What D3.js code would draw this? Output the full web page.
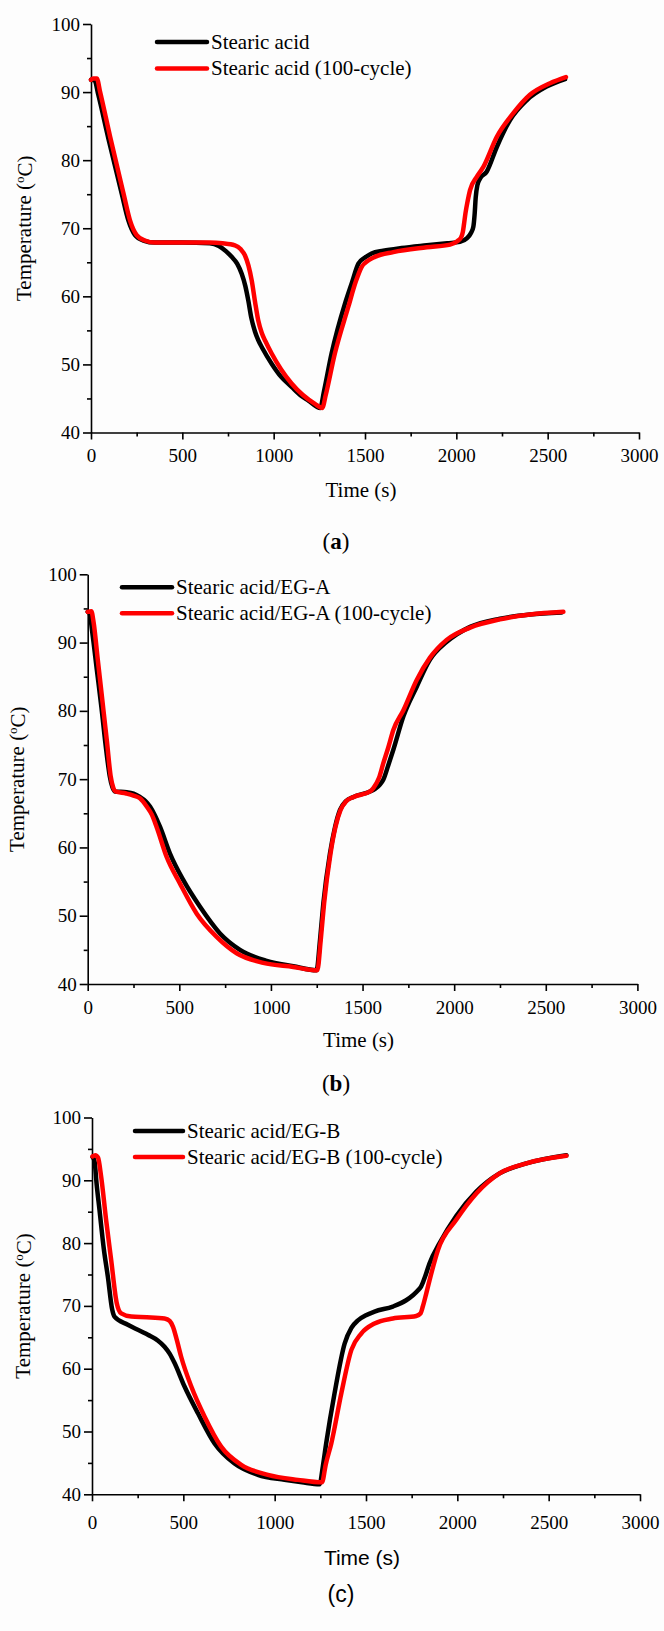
<!DOCTYPE html>
<html>
<head>
<meta charset="utf-8">
<script src="https://cdn.jsdelivr.net/npm/d3@7"></script>
<style>
  html, body { margin: 0; padding: 0; background: #fff; }
  svg { display: block; }
</style>
</head>
<body>
<svg id="fig" width="664" height="1631"></svg>
<script>
// Cooling / heating curves, each point is [time (s), temperature (°C)]
const pureSA = [[0,91.8],[20,91.7],[40,89.6],[95,83.2],[168,75.1],[204,71.2],[241,69.0],[287,68.2],[350,67.9],[500,67.9],[650,67.8],[700,67.4],[740,66.6],[770,65.8],[800,64.8],[825,63.3],[845,61.5],[861,59.4],[878,56.8],[898,54.8],[915,53.6],[940,52.3],[989,50.1],[1040,48.2],[1098,46.7],[1150,45.4],[1190,44.7],[1255,43.6],[1275,46.0],[1317,51.6],[1390,58.9],[1427,61.9],[1464,64.8],[1500,65.7],[1536,66.3],[1600,66.7],[1700,67.1],[1838,67.5],[1950,67.8],[2020,68.0],[2057,68.5],[2080,69.3],[2093,70.2],[2100,72.0],[2106,74.5],[2115,76.3],[2130,77.3],[2166,78.3],[2221,81.9],[2294,85.9],[2385,88.8],[2494,90.8],[2595,91.9]];
const pureSA100 = [[0,91.8],[12,92.0],[32,92.0],[50,90.0],[105,83.4],[178,75.1],[213,71.2],[250,69.0],[295,68.2],[350,67.9],[500,67.9],[650,67.9],[720,67.8],[788,67.5],[820,66.9],[843,66.0],[862,64.5],[880,62.3],[898,59.2],[916,56.4],[935,54.6],[955,53.4],[989,51.6],[1040,49.3],[1098,47.2],[1160,45.5],[1226,44.2],[1266,43.6],[1285,45.5],[1335,51.6],[1408,58.4],[1450,62.2],[1481,64.3],[1520,65.3],[1554,65.8],[1655,66.5],[1838,67.2],[1966,67.6],[2005,68.1],[2025,68.6],[2036,69.5],[2042,70.6],[2050,72.2],[2062,74.0],[2075,75.6],[2111,77.5],[2148,79.0],[2221,83.4],[2312,86.9],[2403,89.6],[2513,91.3],[2600,92.2]];

const egA = [[0,94.5],[10,94.3],[25,91.5],[50,86.0],[75,80.5],[100,74.5],[120,70.5],[135,68.8],[149,68.2],[213,68.1],[250,67.9],[285,67.4],[315,66.8],[340,66.0],[365,64.8],[395,63.0],[449,59.1],[522,55.2],[613,51.3],[722,47.4],[831,45.0],[977,43.4],[1122,42.6],[1249,42.0],[1268,46.5],[1286,51.8],[1322,59.1],[1350,63.0],[1377,65.5],[1410,66.8],[1450,67.4],[1541,68.2],[1570,68.6],[1595,69.2],[1613,69.9],[1640,72.0],[1668,74.3],[1723,79.2],[1795,83.5],[1868,87.5],[1959,90.1],[2087,92.3],[2250,93.5],[2414,94.1],[2586,94.4]];
const egA100 = [[0,94.5],[20,94.6],[32,93.0],[55,87.5],[80,81.5],[105,75.5],[125,70.5],[140,68.7],[152,68.2],[210,67.9],[250,67.6],[285,67.2],[322,66.0],[350,64.8],[376,63.0],[431,58.6],[504,54.7],[595,50.3],[704,46.9],[813,44.5],[958,43.1],[1122,42.5],[1253,42.0],[1272,46.5],[1290,51.8],[1325,59.1],[1352,63.0],[1380,65.5],[1412,66.8],[1452,67.4],[1541,68.2],[1559,68.7],[1590,70.2],[1613,72.3],[1640,74.6],[1668,77.2],[1723,80.1],[1795,84.5],[1868,87.8],[1959,90.4],[2087,92.2],[2250,93.4],[2414,94.1],[2596,94.5]];

const egB = [[3,93.7],[14,93.0],[25,89.5],[41,85.3],[65,79.0],[87,74.6],[110,69.5],[123,68.3],[196,67.0],[306,65.4],[360,64.5],[397,63.5],[425,62.4],[452,60.9],[506,57.2],[580,52.9],[671,48.1],[780,44.9],[908,43.1],[1054,42.3],[1150,41.9],[1246,41.6],[1264,44.5],[1282,48.1],[1328,56.1],[1383,64.0],[1420,66.5],[1456,67.7],[1500,68.5],[1547,69.1],[1647,69.9],[1720,70.9],[1757,71.7],[1785,72.5],[1802,73.1],[1825,74.8],[1848,76.8],[1903,80.0],[1994,84.3],[2104,88.2],[2231,91.1],[2378,92.7],[2597,94.0]];
const egB100 = [[3,93.8],[18,94.0],[33,93.6],[50,90.6],[78,83.5],[105,77.3],[135,70.5],[160,68.8],[215,68.3],[300,68.2],[397,68.0],[425,67.6],[443,66.7],[465,64.5],[488,61.9],[543,57.2],[616,52.4],[707,47.6],[817,44.7],[963,43.1],[1127,42.3],[1259,41.9],[1280,44.8],[1310,48.1],[1365,56.1],[1420,63.0],[1474,65.6],[1547,67.2],[1647,68.0],[1775,68.4],[1798,68.8],[1811,69.9],[1830,72.0],[1848,74.1],[1894,78.9],[1994,83.7],[2104,87.9],[2231,91.1],[2378,92.7],[2597,93.9]];

// Legend entries and axis labelling
const legendA = ["Stearic acid", "Stearic acid (100-cycle)"];
const legendB = ["Stearic acid/EG-A", "Stearic acid/EG-A (100-cycle)"];
const legendC = ["Stearic acid/EG-B", "Stearic acid/EG-B (100-cycle)"];
const panelTags = ["a", "b", "c"];
const xTicks = [0, 500, 1000, 1500, 2000, 2500, 3000];
const xMinorTicks = [250, 750, 1250, 1750, 2250, 2750];
const yTicks = [40, 50, 60, 70, 80, 90, 100];
const yMinorTicks = [45, 55, 65, 75, 85, 95];
const xTitle = "Time (s)";
const yTitleMain = "Temperature (";
const yTitleSup = "o";
const yTitleEnd = "C)";
const seriesColors = ["#000000", "#ff0000"];

const SERIF = "'Liberation Serif','Times New Roman',serif";
const SANS = "'Liberation Sans',Arial,sans-serif";

// Panel frames (pixel layout)
const panels = [
  { series: [pureSA, pureSA100], legend: legendA, tag: panelTags[0],
    x0: 91, x1: 639, yTop: 24, yBot: 432.5,
    legX: 157, legY: 42, legGap: 26.5, legLen: 50,
    yTitleX: 24, tickY: 455, titleY: 490, tagX: 336, tagY: 541,
    titleFont: SERIF, tagFont: SERIF, tagBold: true },
  { series: [egA, egA100], legend: legendB, tag: panelTags[1],
    x0: 87.7, x1: 637.4, yTop: 574.3, yBot: 984,
    legX: 122, legY: 587.3, legGap: 26, legLen: 50,
    yTitleX: 17, tickY: 1007, titleY: 1040, tagX: 336, tagY: 1083,
    titleFont: SERIF, tagFont: SERIF, tagBold: true },
  { series: [egB, egB100], legend: legendC, tag: panelTags[2],
    x0: 92, x1: 640, yTop: 1117.5, yBot: 1494.3,
    legX: 135, legY: 1131, legGap: 26, legLen: 48,
    yTitleX: 23, tickY: 1522, titleY: 1558, tagX: 341, tagY: 1594,
    titleFont: SANS, tagFont: SANS, tagBold: false }
];

const svg = d3.select("#fig");
svg.append("rect").attr("width", 664).attr("height", 1631).attr("fill", "#fdfdfd");

panels.forEach(p => {
  const x = d3.scaleLinear().domain([0, 3000]).range([p.x0, p.x1]);
  const y = d3.scaleLinear().domain([40, 100]).range([p.yBot, p.yTop]);
  const g = svg.append("g");

  // x axis: major ticks with labels, then unlabeled minor ticks
  const gx = g.append("g").attr("transform", `translate(0,${p.yBot})`)
    .call(d3.axisBottom(x).tickValues(xTicks).tickSize(7).tickSizeOuter(0).tickFormat(d3.format("d")));
  gx.append("g").call(d3.axisBottom(x).tickValues(xMinorTicks).tickSize(4).tickSizeOuter(0).tickFormat(""))
    .select(".domain").remove();
  gx.selectAll("text")
    .attr("y", p.tickY - p.yBot).attr("dy", "0.35em")
    .attr("font-family", SERIF).attr("font-size", 19).attr("fill", "#000");

  // y axis
  const gy = g.append("g").attr("transform", `translate(${p.x0},0)`)
    .call(d3.axisLeft(y).tickValues(yTicks).tickSize(8).tickPadding(3).tickSizeOuter(0));
  gy.append("g").call(d3.axisLeft(y).tickValues(yMinorTicks).tickSize(4).tickSizeOuter(0).tickFormat(""))
    .select(".domain").remove();
  gy.selectAll("text").attr("font-family", SERIF).attr("font-size", 19).attr("fill", "#000");

  g.selectAll(".domain, .tick line").attr("stroke", "#000").attr("stroke-width", 1.6);

  // curves: unaged first, cycled sample drawn on top
  const line = d3.line().x(d => x(d[0])).y(d => y(d[1])).curve(d3.curveMonotoneX);
  p.series.forEach((s, i) => {
    g.append("path").datum(s).attr("d", line)
      .attr("fill", "none").attr("stroke", seriesColors[i]).attr("stroke-width", 4.5)
      .attr("stroke-linejoin", "round").attr("stroke-linecap", "round");
  });

  // legend
  p.legend.forEach((label, i) => {
    const ly = p.legY + i * p.legGap;
    g.append("line").attr("x1", p.legX).attr("x2", p.legX + p.legLen)
      .attr("y1", ly).attr("y2", ly)
      .attr("stroke", seriesColors[i]).attr("stroke-width", 4.5).attr("stroke-linecap", "round");
    g.append("text").attr("x", p.legX + p.legLen + 4).attr("y", ly).attr("dy", "0.33em")
      .attr("font-family", SERIF).attr("font-size", 21).attr("fill", "#000").text(label);
  });

  // axis titles
  g.append("text").attr("x", (p.x0 + p.x1) / 2 - 4).attr("y", p.titleY).attr("dy", "0.35em")
    .attr("text-anchor", "middle").attr("font-family", p.titleFont).attr("font-size", 21)
    .attr("fill", "#000").text(xTitle);

  const yt = g.append("text")
    .attr("transform", `translate(${p.yTitleX},${(p.yTop + p.yBot) / 2}) rotate(-90)`)
    .attr("dy", "0.35em").attr("text-anchor", "middle")
    .attr("font-family", SERIF).attr("font-size", 21).attr("fill", "#000");
  yt.append("tspan").text(yTitleMain);
  yt.append("tspan").attr("font-size", 13).attr("dy", "-0.55em").text(yTitleSup);
  yt.append("tspan").attr("dy", "0.35em").attr("font-size", 21).text(yTitleEnd);

  // sub-figure tag
  const tg = g.append("text").attr("x", p.tagX).attr("y", p.tagY).attr("dy", "0.35em")
    .attr("text-anchor", "middle").attr("font-family", p.tagFont).attr("font-size", 23).attr("fill", "#000");
  tg.append("tspan").text("(");
  tg.append("tspan").attr("font-weight", p.tagBold ? "bold" : "normal").text(p.tag);
  tg.append("tspan").text(")");
});
</script>
</body>
</html>
